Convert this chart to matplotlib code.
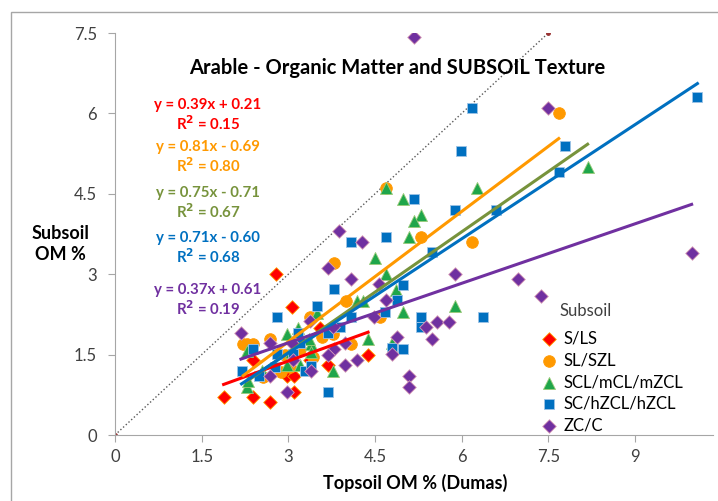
import matplotlib
matplotlib.use('Agg')
import matplotlib.pyplot as plt
from matplotlib.patches import Rectangle

plt.rcParams['font.family'] = ['Lato', 'DejaVu Sans']

# Topsoil OM % (Dumas) vs subsoil OM %, grouped by subsoil texture
sls_x = [2.79, 3.07, 2.38, 4.38, 3.69, 2.98, 3.10, 1.88, 2.38, 2.68, 3.10, 3.37, 3.55]
sls_y = [3.00, 2.39, 1.39, 1.50, 1.31, 1.10, 1.10, 0.70, 0.70, 0.61, 0.80, 1.40, 2.00]

sl_x = [7.68, 6.18, 5.29, 4.69, 3.79, 3.99, 4.58, 3.37, 3.58, 3.78, 4.09, 2.68,
        2.28, 2.39, 2.88, 2.57, 3.03, 3.42, 2.95, 3.20, 2.22]
sl_y = [6.00, 3.60, 3.70, 4.60, 3.20, 2.50, 2.20, 2.20, 1.82, 1.88, 1.70, 1.80,
        1.70, 1.70, 1.18, 1.09, 1.27, 1.46, 1.50, 1.60, 1.70]

scl_x = [8.18, 6.27, 4.69, 4.98, 5.29, 5.18, 5.09, 4.50, 4.69, 4.87, 4.98, 5.88,
         4.79, 4.18, 4.30, 4.38, 3.78, 3.49, 3.17, 2.97, 3.39, 3.36, 3.20, 2.97,
         2.28, 2.28, 2.31, 3.05, 3.40, 2.55]
scl_y = [5.00, 4.60, 4.60, 4.40, 4.10, 4.00, 3.70, 3.30, 3.00, 2.70, 2.30, 2.41,
         1.71, 2.50, 2.50, 1.79, 1.20, 2.28, 2.00, 1.88, 1.70, 1.80, 1.31, 1.31,
         1.57, 0.90, 1.00, 1.55, 1.55, 1.20]

sc_x = [10.08, 6.18, 5.98, 7.79, 7.68, 5.18, 5.88, 6.59, 4.08, 4.69, 3.79, 4.98,
        5.48, 4.88, 4.68, 5.29, 5.29, 6.37, 4.98, 4.79, 2.80, 3.49, 3.69, 3.89,
        4.08, 2.39, 2.19, 2.50, 2.80, 3.08, 3.20, 3.17, 3.29, 3.39, 3.69, 2.77]
sc_y = [6.30, 6.11, 5.30, 5.40, 4.90, 4.40, 4.20, 4.20, 3.61, 3.70, 2.72, 2.80,
        3.42, 2.52, 2.30, 2.20, 2.01, 2.21, 1.60, 1.62, 2.21, 2.41, 1.90, 2.02,
        2.21, 1.60, 1.20, 1.10, 1.51, 1.51, 1.71, 1.90, 1.20, 1.29, 0.80, 1.27]

zc_x = [5.18, 7.49, 9.98, 6.97, 7.38, 5.88, 4.69, 4.88, 4.79, 5.39, 5.48, 5.58,
        5.78, 5.09, 5.09, 3.88, 4.28, 3.69, 4.08, 4.57, 4.48, 3.38, 3.78, 2.18,
        2.68, 3.07, 3.98, 3.79, 3.68, 3.08, 3.98, 4.18, 3.39, 2.68, 2.98]
zc_y = [7.42, 6.11, 3.40, 2.91, 2.60, 3.00, 2.52, 1.82, 1.51, 2.01, 1.80, 2.10,
        2.10, 1.11, 0.90, 3.81, 3.61, 3.11, 2.91, 2.82, 2.20, 2.13, 2.01, 1.91,
        1.71, 1.71, 1.71, 1.60, 1.49, 1.40, 1.31, 1.40, 1.20, 1.10, 0.81]

# linear trendline coefficients and R^2 for each texture group
slopes = [0.39, 0.81, 0.75, 0.71, 0.37]
intercepts = [0.21, -0.69, -0.71, -0.60, 0.61]
r2 = [0.15, 0.80, 0.67, 0.68, 0.19]

labels = ['S/LS', 'SL/SZL', 'SCL/mCL/mZCL', 'SC/hZCL/hZCL', 'ZC/C']
xs = [sls_x, sl_x, scl_x, sc_x, zc_x]
ys = [sls_y, sl_y, scl_y, sc_y, zc_y]
markers = ['D', 'o', '^', 's', 'D']
sizes = [48, 70, 75, 52, 48]
face = ['#FF0000', '#FF9900', '#1FA64A', '#0070C0', '#7030A0']
edge = ['#FFA000', '#FF9900', '#9BCB7A', '#9DC3E6', '#D9A0B8']
line_col = ['#FF0000', '#FF9900', '#77933C', '#0070C0', '#7030A0']

W, H = 718, 501
fig = plt.figure(figsize=(W / 100, H / 100), dpi=100)

def px(x, y):
    return x / W, 1 - y / H

# chart area border (runs off the right and bottom)
fig.patches.append(Rectangle(px(11, 520), 800 / W, 508 / H, transform=fig.transFigure,
                             fill=False, edgecolor='#a6a6a6', lw=1))

l, b = px(115, 435)
r, t = px(713, 33)
ax = fig.add_axes([l, b, r - l, t - b])
ax.set_xlim(0, 10.35)
ax.set_ylim(0, 7.5)

# 1:1 line
ax.plot([0, 7.5], [0, 7.5], ls=':', color='#595959', lw=1, marker='o', ms=2.5,
        mfc='#993333', mec='#993333')

for i in range(5):
    ax.scatter(xs[i], ys[i], marker=markers[i], s=sizes[i], c=face[i],
               edgecolors=edge[i], linewidths=0.6, label=labels[i], zorder=3)

for i in range(5):
    x0, x1 = min(xs[i]), max(xs[i])
    ax.plot([x0, x1], [slopes[i] * x0 + intercepts[i], slopes[i] * x1 + intercepts[i]],
            color=line_col[i], lw=2.2, zorder=4)

ticks = [0, 1.5, 3, 4.5, 6, 7.5, 9]
ax.set_xticks(ticks)
ax.set_xticklabels(['0', '1.5', '3', '4.5', '6', '7.5', '9'])
ax.set_yticks(ticks[:6])
ax.set_yticklabels(['0', '1.5', '3', '4.5', '6', '7.5'])
ax.tick_params(direction='out', length=5, color='#a6a6a6', labelsize=12,
               labelcolor='#404040')
ax.tick_params(axis='x', pad=5)
ax.tick_params(axis='y', pad=8)
for s in ['top', 'right']:
    ax.spines[s].set_visible(False)
for s in ['left', 'bottom']:
    ax.spines[s].set_color('#a6a6a6')

fig.text(*px(397, 68), 'Arable - Organic Matter and SUBSOIL Texture', ha='center',
         va='center', fontsize=14.5, fontweight='bold')
fig.text(*px(415, 483), 'Topsoil OM % (Dumas)', ha='center', va='center',
         fontsize=13, fontweight='bold')
fig.text(*px(60, 244), 'Subsoil\nOM %', ha='center', va='center', fontsize=13,
         fontweight='bold', linespacing=1.3)

eq_pos = [(208, 105), (208, 147), (208, 193), (208, 238), (208, 290)]
for i in range(5):
    sign = '+' if intercepts[i] >= 0 else '-'
    eq = 'y = %.2fx %s %.2f' % (slopes[i], sign, abs(intercepts[i]))
    x, y = eq_pos[i]
    fig.text(*px(x, y), eq, ha='center', va='center', fontsize=10.8,
             fontweight='bold', color=line_col[i])
    fig.text(*px(x, y + 19), r'R$^\mathbf{2}$ = %.2f' % r2[i], ha='center', va='center',
             fontsize=10.8, fontweight='bold', color=line_col[i])

fig.text(*px(560, 311), 'Subsoil', ha='left', va='center', fontsize=12, color='#404040')
ax.legend(frameon=False, fontsize=12, loc='upper left',
          bbox_to_anchor=px(532, 322), bbox_transform=fig.transFigure,
          handletextpad=0.4, labelspacing=0.35, borderpad=0, handlelength=1.0)

fig.savefig('out.png', dpi=100)
